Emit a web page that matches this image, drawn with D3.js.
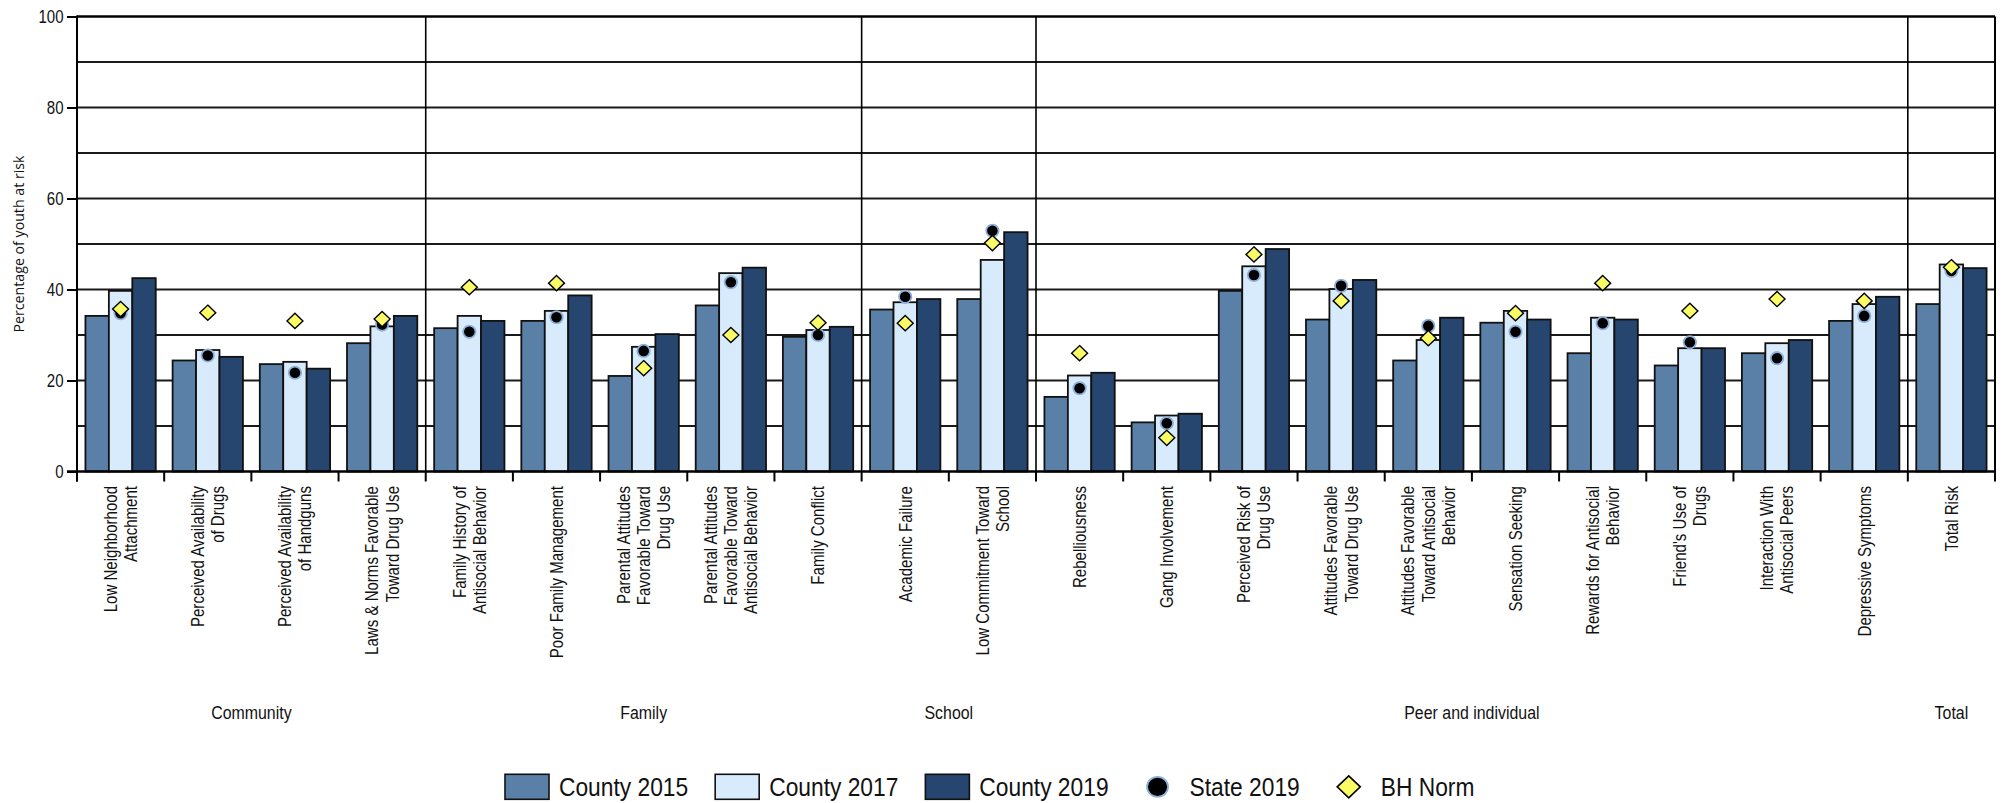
<!DOCTYPE html>
<html>
<head>
<meta charset="utf-8">
<script src="https://cdn.jsdelivr.net/npm/d3@7"></script>
<style>
  html, body { margin: 0; padding: 0; background: #fff; }
  svg { display: block; }
</style>
</head>
<body>
<svg id="chart" width="2003" height="803"></svg>
<script>
// ---------------- data ----------------
const categories = [
  "Low Neighborhood Attachment",
  "Perceived Availability of Drugs",
  "Perceived Availability of Handguns",
  "Laws & Norms Favorable Toward Drug Use",
  "Family History of Antisocial Behavior",
  "Poor Family Management",
  "Parental Attitudes Favorable Toward Drug Use",
  "Parental Attitudes Favorable Toward Antisocial Behavior",
  "Family Conflict",
  "Academic Failure",
  "Low Commitment Toward School",
  "Rebelliousness",
  "Gang Involvement",
  "Perceived Risk of Drug Use",
  "Attitudes Favorable Toward Drug Use",
  "Attitudes Favorable Toward Antisocial Behavior",
  "Sensation Seeking",
  "Rewards for Antisocial Behavior",
  "Friend's Use of Drugs",
  "Interaction With Antisocial Peers",
  "Depressive Symptoms",
  "Total Risk"
];
const labelLines = [
  ["Low Neighborhood", "Attachment"],
  ["Perceived Availability", "of Drugs"],
  ["Perceived Availability", "of Handguns"],
  ["Laws & Norms Favorable", "Toward Drug Use"],
  ["Family History of", "Antisocial Behavior"],
  ["Poor Family Management"],
  ["Parental Attitudes", "Favorable Toward", "Drug Use"],
  ["Parental Attitudes", "Favorable Toward", "Antisocial Behavior"],
  ["Family Conflict"],
  ["Academic Failure"],
  ["Low Commitment Toward", "School"],
  ["Rebelliousness"],
  ["Gang Involvement"],
  ["Perceived Risk of", "Drug Use"],
  ["Attitudes Favorable", "Toward Drug Use"],
  ["Attitudes Favorable", "Toward Antisocial", "Behavior"],
  ["Sensation Seeking"],
  ["Rewards for Antisocial", "Behavior"],
  ["Friend's Use of", "Drugs"],
  ["Interaction With", "Antisocial Peers"],
  ["Depressive Symptoms"],
  ["Total Risk"]
];
const groupNames = ["Community", "Family", "School", "Peer and individual", "Total"];
const groupSizes = [4, 5, 2, 10, 1];

const county2015 = [34.2, 24.4, 23.6, 28.2, 31.5, 33.1, 21.0, 36.5, 29.6, 35.6, 37.9,
                    16.4, 10.8, 39.7, 33.4, 24.4, 32.7, 26.0, 23.3, 26.0, 33.1, 36.8];
const county2017 = [39.7, 26.7, 24.1, 31.9, 34.2, 35.3, 27.4, 43.6, 31.1, 37.2, 46.5,
                    21.1, 12.3, 45.1, 40.1, 28.9, 35.3, 33.8, 27.1, 28.2, 36.8, 45.5];
const county2019 = [42.5, 25.2, 22.6, 34.2, 33.1, 38.7, 30.2, 44.8, 31.8, 37.9, 52.6,
                    21.7, 12.7, 48.9, 42.1, 33.8, 33.4, 33.4, 27.1, 28.9, 38.4, 44.7];
const state2019  = [34.8, 25.5, 21.7, 32.3, 30.7, 33.9, 26.5, 41.6, 30.0, 38.4, 52.9,
                    18.3, 10.6, 43.2, 40.8, 32.0, 30.7, 32.6, 28.4, 24.9, 34.2, 44.1];
const bhNorm     = [35.7, 34.9, 33.1, 33.5, 40.5, 41.4, 22.7, 30.0, 32.7, 32.6, 50.2,
                    26.0, 7.4, 47.7, 37.5, 29.3, 34.8, 41.4, 35.3, 37.9, 37.5, 44.9];

const seriesKeys = ["County 2015", "County 2017", "County 2019"];
const seriesValues = [county2015, county2017, county2019];
const yTicks = [0, 20, 40, 60, 80, 100];
const yGrid = [10, 20, 30, 40, 50, 60, 70, 80, 90];

// ---------------- styles ----------------
const colors = { "County 2015": "#5b80a8", "County 2017": "#d8ebfc", "County 2019": "#26456f" };
const stateFill = "#000000", stateHalo = "#8fb0d8";
const bhFill = "#fbfb66";
const narrow = '"Liberation Sans", Arial, sans-serif';
const SX = 0.86; // horizontal squeeze to imitate a condensed face

// ---------------- layout ----------------
const svg = d3.select("#chart");
const plot = { left: 77, right: 1995, top: 16.5, bottom: 471.5 };

const x = d3.scaleBand().domain(categories).range([plot.left, plot.right]).paddingInner(0).paddingOuter(0);
const xs = d3.scaleBand().domain(seriesKeys).range([0, x.bandwidth()]).paddingInner(0).paddingOuter(0.36);
const y = d3.scaleLinear().domain([0, 100]).range([plot.bottom, plot.top]);

function condensedText(parent, tx, ty, rot, size, anchor, txt) {
  return parent.append("text")
    .attr("transform", `translate(${tx},${ty})${rot ? " rotate(" + rot + ")" : ""} scale(${SX},1)`)
    .attr("text-anchor", anchor)
    .attr("font-family", narrow).attr("font-size", size).attr("fill", "#111")
    .text(txt);
}

// gridlines
svg.append("g").selectAll("line").data(yGrid).join("line")
  .attr("x1", plot.left).attr("x2", plot.right)
  .attr("y1", d => y(d)).attr("y2", d => y(d))
  .attr("stroke", "#1a1a1a").attr("stroke-width", 1.8);

// top border
svg.append("line").attr("x1", plot.left).attr("x2", plot.right)
  .attr("y1", y(100)).attr("y2", y(100)).attr("stroke", "#000").attr("stroke-width", 2.6);

// group dividers
let cum = 0;
const boundaries = [];
groupSizes.forEach(s => { cum += s; boundaries.push(cum); });
svg.append("g").selectAll("line").data(boundaries.slice(0, -1)).join("line")
  .attr("x1", d => x(categories[d])).attr("x2", d => x(categories[d]))
  .attr("y1", y(100)).attr("y2", y(0))
  .attr("stroke", "#000").attr("stroke-width", 1.6);
// right border
svg.append("line").attr("x1", plot.right).attr("x2", plot.right)
  .attr("y1", y(100)).attr("y2", y(0)).attr("stroke", "#000").attr("stroke-width", 2);

// bars
const barData = [];
categories.forEach((c, i) => seriesKeys.forEach((k, j) => barData.push({ c, k, v: seriesValues[j][i] })));
svg.append("g").selectAll("rect").data(barData).join("rect")
  .attr("x", d => x(d.c) + xs(d.k))
  .attr("width", xs.bandwidth())
  .attr("y", d => y(d.v))
  .attr("height", d => y(0) - y(d.v))
  .attr("fill", d => colors[d.k])
  .attr("stroke", "#111").attr("stroke-width", 1.8);

// x axis line + category boundary ticks
const tickXs = categories.map(c => x(c)).concat([plot.right]);
svg.append("g").selectAll("line").data(tickXs).join("line")
  .attr("x1", d => d).attr("x2", d => d)
  .attr("y1", y(0)).attr("y2", y(0) + 10)
  .attr("stroke", "#000").attr("stroke-width", 2);
svg.append("line").attr("x1", plot.left - 10).attr("x2", plot.right + 1)
  .attr("y1", y(0)).attr("y2", y(0)).attr("stroke", "#000").attr("stroke-width", 2.6);

// y axis
const yAxis = svg.append("g").attr("transform", `translate(${plot.left},0)`)
  .call(d3.axisLeft(y).tickValues(yTicks).tickSize(10).tickPadding(3).tickFormat(d3.format("d")));
yAxis.select(".domain").remove();
yAxis.selectAll(".tick line").attr("stroke", "#000").attr("stroke-width", 2);
yAxis.selectAll(".tick text")
  .attr("font-family", narrow).attr("font-size", 17.5).attr("fill", "#111")
  .attr("x", -13.5 / SX).attr("transform", `scale(${SX},1)`);
svg.append("line").attr("x1", plot.left).attr("x2", plot.left)
  .attr("y1", y(100) - 1).attr("y2", y(0) + 10).attr("stroke", "#000").attr("stroke-width", 2);

// y axis title
svg.append("text")
  .attr("transform", `translate(19,${(plot.top + plot.bottom) / 2}) rotate(-90)`)
  .attr("text-anchor", "middle").attr("dy", "0.35em")
  .attr("font-family", '"Open Sans", sans-serif').attr("font-size", 14.2).attr("fill", "#111")
  .text("Percentage of youth at risk");

// state dots
const cx = (c) => x(c) + xs("County 2017") + xs.bandwidth() / 2;
svg.append("g").selectAll("circle").data(categories).join("circle")
  .attr("cx", c => cx(c)).attr("cy", (c, i) => y(state2019[i]))
  .attr("r", 6.2).attr("fill", stateFill).attr("stroke", stateHalo).attr("stroke-width", 1.8);

// BH norm diamonds
const diamond = (s) => `M0,${-s}L${s * 1.05},0L0,${s}L${-s * 1.05},0Z`;
svg.append("g").selectAll("path").data(categories).join("path")
  .attr("transform", (c, i) => `translate(${cx(c)},${y(bhNorm[i])})`)
  .attr("d", diamond(7.6))
  .attr("fill", bhFill).attr("stroke", "#000").attr("stroke-width", 1.4);

// category labels
const labelTop = 486;
const lineH = 20.2;
const lg = svg.append("g");
categories.forEach((c, i) => {
  const lines = labelLines[i];
  const t = lg.append("text")
    .attr("transform", `translate(${x(c) + x.bandwidth() / 2},${labelTop}) rotate(-90) scale(${SX},1)`)
    .attr("text-anchor", "end")
    .attr("font-family", narrow).attr("font-size", 17.5).attr("fill", "#111");
  lines.forEach((ln, k) => {
    t.append("tspan").attr("x", 0)
      .attr("y", (k - (lines.length - 1) / 2) * lineH)
      .attr("dy", "0.36em")
      .text(ln);
  });
});

// group labels
let start = 0;
groupNames.forEach((g, gi) => {
  const first = categories[start];
  const last = categories[start + groupSizes[gi] - 1];
  const mid = (x(first) + x(last) + x.bandwidth()) / 2;
  condensedText(svg, mid, 719, 0, 18.5, "middle", g);
  start += groupSizes[gi];
});

// legend
const legendItems = [
  { name: "County 2015", type: "rect", fill: colors["County 2015"] },
  { name: "County 2017", type: "rect", fill: colors["County 2017"] },
  { name: "County 2019", type: "rect", fill: colors["County 2019"] },
  { name: "State 2019", type: "circle" },
  { name: "BH Norm", type: "diamond" }
];
const leg = svg.append("g");
let lx = 505;
const lcy = 786.8;
legendItems.forEach(it => {
  if (it.type === "rect") {
    leg.append("rect").attr("x", lx).attr("y", lcy - 12.5).attr("width", 44).attr("height", 25)
      .attr("fill", it.fill).attr("stroke", "#111").attr("stroke-width", 1.6);
  } else if (it.type === "circle") {
    leg.append("ellipse").attr("cx", lx + 22).attr("cy", lcy).attr("rx", 10.5).attr("ry", 10)
      .attr("fill", stateFill).attr("stroke", stateHalo).attr("stroke-width", 1.8);
  } else {
    leg.append("path").attr("transform", `translate(${lx + 22},${lcy})`).attr("d", diamond(11))
      .attr("fill", bhFill).attr("stroke", "#000").attr("stroke-width", 1.6);
  }
  const t = condensedText(leg, lx + 54, lcy + 9.5, 0, 26.5, "start", it.name);
  lx = lx + 54 + t.node().getComputedTextLength() * SX + 27;
});
</script>
</body>
</html>
